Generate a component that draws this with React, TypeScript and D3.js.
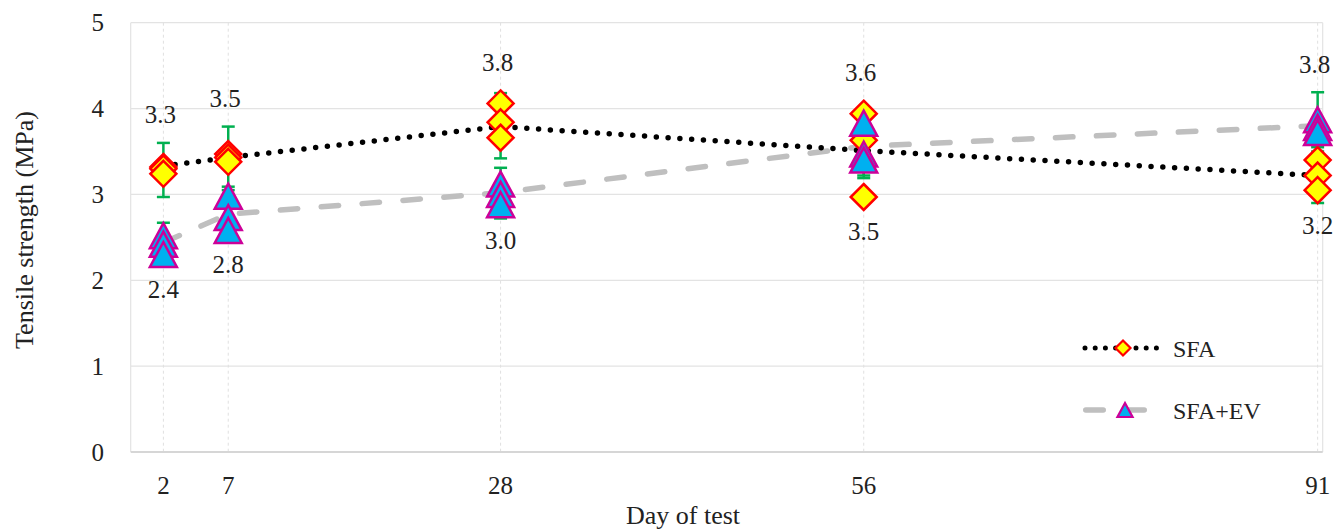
import React from "react";
import * as d3 from "d3";

const days = [2, 7, 28, 56, 91];
const xTickLabels = ["2", "7", "28", "56", "91"];
const yTicks = [0, 1, 2, 3, 4, 5];

const sfaMean = [3.33, 3.43, 3.79, 3.51, 3.22];
const evMean = [2.44, 2.77, 3.02, 3.56, 3.8];

const sfaReps = [
  [3.32, 3.3, 3.24],
  [3.47, 3.43, 3.38],
  [4.06, 3.84, 3.66],
  [3.94, 3.63, 2.97],
  [3.4, 3.22, 3.05],
];
const evReps = [
  [2.52, 2.42, 2.3],
  [2.98, 2.73, 2.58],
  [3.12, 3.0, 2.88],
  [3.83, 3.47, 3.4],
  [3.87, 3.78, 3.72],
];

const sfaErrLow = [2.97, 3.09, 3.42, 3.19, 2.9];
const sfaErrHigh = [3.6, 3.79, 4.18, 3.83, 3.5];
const evErrLow = [2.2, 2.55, 2.72, 3.22, 3.55];
const evErrHigh = [2.67, 3.05, 3.31, 3.92, 4.19];

const sfaLabels = ["3.3", "3.5", "3.8", "3.5", "3.2"];
const evLabels = ["2.4", "2.8", "3.0", "3.6", "3.8"];

const W = 1339;
const H = 531;
const FONT = "'Liberation Serif', 'Times New Roman', serif";

const x = d3.scaleLinear().domain([-0.52, 91.39]).range([130.7, 1322.7]);
const y = d3.scaleLinear().domain([0, 5]).range([452, 22.7]);

const DIA = 13; // half diagonal of diamond
const TRI = 12.5; // half height of triangle

function diamondPath(cx: number, cy: number, r: number) {
  return `M${cx},${cy - r}L${cx + r},${cy}L${cx},${cy + r}L${cx - r},${cy}Z`;
}
function trianglePath(cx: number, cy: number, r: number) {
  const hw = r * 1.08;
  return `M${cx},${cy - r}L${cx + hw},${cy + r}L${cx - hw},${cy + r}Z`;
}

export default function App() {
  const line = d3
    .line<number>()
    .x((_, i) => x(days[i]))
    .y((d) => y(d));

  const left = x.range()[0];
  const right = x.range()[1];
  const top = y.range()[1];
  const bottom = y.range()[0];

  const dataLabels = days.map((d, i) => {
    const topExt = Math.min(
      y(sfaErrHigh[i]),
      y(evErrHigh[i]),
      y(d3.max(sfaReps[i])!) - DIA,
      y(d3.max(evReps[i])!) - TRI
    );
    const botExt = Math.max(
      y(sfaErrLow[i]),
      y(evErrLow[i]),
      y(d3.min(sfaReps[i])!) + DIA,
      y(d3.min(evReps[i])!) + TRI
    );
    const sfaUp = sfaMean[i] >= evMean[i];
    return {
      x: x(d),
      upText: sfaUp ? sfaLabels[i] : evLabels[i],
      downText: sfaUp ? evLabels[i] : sfaLabels[i],
      upY: topExt - 28,
      downY: botExt + 22,
    };
  });

  const errBar = (i: number, lo: number, hi: number, key: string) => {
    const cx = x(days[i]);
    return (
      <g key={key} stroke="#00B050" strokeWidth={2.5} fill="none">
        <line x1={cx} x2={cx} y1={y(lo)} y2={y(hi)} />
        <line x1={cx - 6.5} x2={cx + 6.5} y1={y(lo)} y2={y(lo)} />
        <line x1={cx - 6.5} x2={cx + 6.5} y1={y(hi)} y2={y(hi)} />
      </g>
    );
  };

  return (
    <svg
      width={W}
      height={H}
      style={{ position: "absolute", left: 0, top: 0, background: "#fff" }}
      fontFamily={FONT}
    >
      {/* horizontal gridlines */}
      {yTicks.slice(1).map((t) => (
        <line key={"g" + t} x1={left} x2={right} y1={y(t)} y2={y(t)} stroke="#E3E3E3" strokeWidth={1.2} />
      ))}
      {/* plot borders */}
      <line x1={left} x2={left} y1={top} y2={bottom} stroke="#E3E3E3" strokeWidth={1.2} />
      <line x1={right} x2={right} y1={top} y2={bottom} stroke="#E3E3E3" strokeWidth={1.2} />
      {/* vertical dashed gridlines */}
      {days.map((d) => (
        <line key={"v" + d} x1={x(d)} x2={x(d)} y1={top} y2={bottom} stroke="#E0E0E0" strokeWidth={1} strokeDasharray="3 3" />
      ))}
      {/* x axis line */}
      <line x1={left} x2={right} y1={bottom} y2={bottom} stroke="#D6D6D6" strokeWidth={1.8} />

      {/* y tick labels */}
      {yTicks.map((t) => (
        <text key={"yt" + t} x={104} y={y(t) + 8.5} textAnchor="end" fontSize={25} fill="#222">
          {t}
        </text>
      ))}
      {/* x tick labels */}
      {days.map((d, i) => (
        <text key={"xt" + d} x={x(d)} y={493.5} textAnchor="middle" fontSize={25} fill="#222">
          {xTickLabels[i]}
        </text>
      ))}

      {/* axis titles */}
      <text transform="translate(33,230) rotate(-90)" textAnchor="middle" fontSize={26} fill="#222">
        Tensile strength (MPa)
      </text>
      <text x={683} y={524} textAnchor="middle" fontSize={26} fill="#222">
        Day of test
      </text>

      {/* lines */}
      <path d={line(evMean)!} fill="none" stroke="#BFBFBF" strokeWidth={5.5} strokeDasharray="17.5 23.5" strokeLinecap="round" />
      <path d={line(sfaMean)!} fill="none" stroke="#000" strokeWidth={5.5} strokeDasharray="0 11.8" strokeLinecap="round" />

      {/* error bars */}
      {days.map((_, i) => errBar(i, sfaErrLow[i], sfaErrHigh[i], "es" + i))}
      {days.map((_, i) => errBar(i, evErrLow[i], evErrHigh[i], "ee" + i))}

      {/* SFA diamonds */}
      {sfaReps.map((reps, i) =>
        reps.map((v, j) => (
          <path key={`d${i}-${j}`} d={diamondPath(x(days[i]), y(v), DIA)} fill="#FFFF00" stroke="#FF0000" strokeWidth={2.5} strokeLinejoin="miter" />
        ))
      )}
      {/* SFA+EV triangles */}
      {evReps.map((reps, i) =>
        reps.map((v, j) => (
          <path key={`t${i}-${j}`} d={trianglePath(x(days[i]), y(v), TRI)} fill="#00B0F0" stroke="#CC0099" strokeWidth={2.5} strokeLinejoin="miter" />
        ))
      )}

      {/* data labels */}
      {dataLabels.map((l, i) => (
        <g key={"lab" + i} fontSize={25} fill="#222" textAnchor="middle">
          <text x={l.x - 3} y={l.upY + 8.5}>{l.upText}</text>
          <text x={l.x} y={l.downY + 8.5}>{l.downText}</text>
        </g>
      ))}

      {/* legend */}
      <g>
        <line x1={1085} x2={1157} y1={348} y2={348} stroke="#000" strokeWidth={5} strokeDasharray="0 10.2" strokeLinecap="round" />
        <path d={diamondPath(1123, 348, 7.5)} fill="#FFFF00" stroke="#FF0000" strokeWidth={2.2} />
        <text x={1173} y={356.5} fontSize={24} fill="#222">SFA</text>

        <line x1={1085.75} x2={1144.25} y1={410} y2={410} stroke="#BFBFBF" strokeWidth={5.5} strokeDasharray="17.5 23.5" strokeLinecap="round" />
        <path d={trianglePath(1125, 410, 7)} fill="#00B0F0" stroke="#CC0099" strokeWidth={2.2} />
        <text x={1173} y={418.5} fontSize={24} fill="#222">SFA+EV</text>
      </g>
    </svg>
  );
}
